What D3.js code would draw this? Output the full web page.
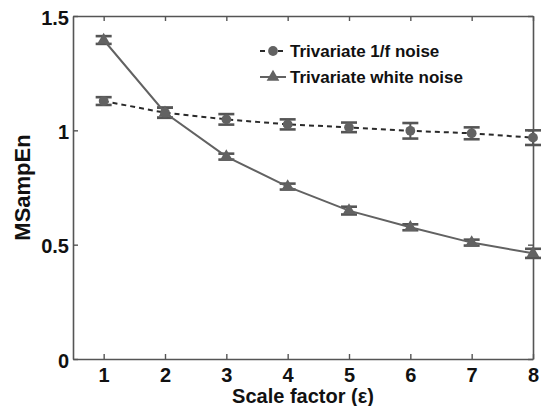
<!DOCTYPE html>
<html>
<head>
<meta charset="utf-8">
<script src="https://cdn.jsdelivr.net/npm/d3@7"></script>
<style>
  body { margin: 0; background: #fff; }
  text { font-family: "Liberation Sans", Arial, sans-serif; font-weight: bold; }
</style>
</head>
<body>
<div id="chart"></div>
<script>
//--------------------------------------------------------------
// DATA
//--------------------------------------------------------------
var scales = [1, 2, 3, 4, 5, 6, 7, 8];
var pinkMean = [1.128, 1.077, 1.048, 1.026, 1.013, 0.998, 0.987, 0.968];
var pinkErr = [0.017, 0.022, 0.023, 0.022, 0.021, 0.034, 0.026, 0.032];
var whiteMean = [1.395, 1.077, 0.885, 0.754, 0.649, 0.576, 0.509, 0.462];
var whiteErr = [0.017, 0.022, 0.013, 0.013, 0.017, 0.013, 0.013, 0.02];
var xTicks = [1, 2, 3, 4, 5, 6, 7, 8];
var yTicks = [0, 0.5, 1, 1.5];
var seriesNames = ["Trivariate 1/f noise", "Trivariate white noise"];

//--------------------------------------------------------------
// SIZE
//--------------------------------------------------------------
var width = 559, height = 406;
var margin = {top: 16, right: 26, bottom: 47, left: 73};
var chartWidth = width - margin.left - margin.right;
var chartHeight = height - margin.top - margin.bottom;

var svg = d3.select("#chart").append("svg")
  .attr("width", width)
  .attr("height", height);

var g = svg.append("g")
  .attr("transform", `translate(${margin.left},${margin.top})`);

var x = d3.scaleLinear().domain([0.5, 8]).range([0, chartWidth]);
var y = d3.scaleLinear().domain([0, 1.5]).range([chartHeight, 0]);

var axisColor = "#555";
var markColor = "#626262";

// axes with inward ticks
var bottomAxis = g.append("g")
  .attr("transform", `translate(0,${chartHeight})`)
  .call(d3.axisBottom(x).tickValues(xTicks).tickSizeInner(-5).tickSizeOuter(0).tickPadding(9));
var topAxis = g.append("g")
  .call(d3.axisTop(x).tickValues(xTicks).tickSizeInner(-5).tickSizeOuter(0).tickFormat(""));
var leftAxis = g.append("g")
  .call(d3.axisLeft(y).tickValues(yTicks).tickSizeInner(-5).tickSizeOuter(0).tickPadding(4).tickFormat(d3.format("")));
var rightAxis = g.append("g")
  .attr("transform", `translate(${chartWidth},0)`)
  .call(d3.axisRight(y).tickValues(yTicks).tickSizeInner(-5).tickSizeOuter(0).tickFormat(""));

[bottomAxis, topAxis, leftAxis, rightAxis].forEach(function(a) {
  a.select(".domain").attr("stroke", axisColor).attr("stroke-width", 1.6);
  a.selectAll(".tick line").attr("stroke", axisColor).attr("stroke-width", 1.4);
  a.selectAll("text").attr("fill", "#111").attr("font-size", 20)
    .attr("font-family", "Liberation Sans, Arial, sans-serif").attr("font-weight", "bold");
});
leftAxis.selectAll("text").attr("dy", "0.4em");
bottomAxis.selectAll("text").attr("dy", "0.7em");

// axis titles
g.append("text")
  .attr("x", chartWidth / 2)
  .attr("y", chartHeight + 44)
  .attr("text-anchor", "middle")
  .attr("font-size", 20)
  .attr("fill", "#111")
  .text("Scale factor (ε)");

g.append("text")
  .attr("transform", `translate(${-43},${chartHeight / 2}) rotate(-90)`)
  .attr("text-anchor", "middle")
  .attr("font-size", 22)
  .attr("fill", "#111")
  .text("MSampEn");

//--------------------------------------------------------------
// SERIES
//--------------------------------------------------------------
function rows(means, errs) {
  return scales.map(function(s, i) { return {s: s, m: means[i], e: errs[i]}; });
}
var pink = rows(pinkMean, pinkErr);
var white = rows(whiteMean, whiteErr);

var line = d3.line().x(d => x(d.s)).y(d => y(d.m));

function errorBars(data) {
  var eb = g.append("g").selectAll("g").data(data).enter().append("g")
    .attr("stroke", "#555").attr("fill", "none");
  eb.append("line")
    .attr("x1", d => x(d.s)).attr("x2", d => x(d.s))
    .attr("y1", d => y(d.m - d.e)).attr("y2", d => y(d.m + d.e))
    .attr("stroke-width", 2);
  [-1, 1].forEach(function(sign) {
    eb.append("line")
      .attr("x1", d => x(d.s) - 8).attr("x2", d => x(d.s) + 8)
      .attr("y1", d => y(d.m + sign * d.e)).attr("y2", d => y(d.m + sign * d.e))
      .attr("stroke-width", 2.6);
  });
}

errorBars(white);
errorBars(pink);

g.append("path").datum(white)
  .attr("d", line)
  .attr("fill", "none")
  .attr("stroke", markColor)
  .attr("stroke-width", 2);

g.append("path").datum(pink)
  .attr("d", line)
  .attr("fill", "none")
  .attr("stroke", "#2a2a2a")
  .attr("stroke-width", 2)
  .attr("stroke-dasharray", "5,4");

var tri = d3.symbol().type(d3.symbolTriangle).size(70);
var circ = d3.symbol().type(d3.symbolCircle).size(75);

g.append("g").selectAll("path").data(white).enter().append("path")
  .attr("d", tri)
  .attr("transform", d => `translate(${x(d.s)},${y(d.m)})`)
  .attr("fill", markColor);

g.append("g").selectAll("path").data(pink).enter().append("path")
  .attr("d", circ)
  .attr("transform", d => `translate(${x(d.s)},${y(d.m)})`)
  .attr("fill", markColor);

//--------------------------------------------------------------
// LEGEND
//--------------------------------------------------------------
var legend = svg.append("g").attr("transform", "translate(260,51)");
var legendRow = [
  {dash: "5,4", color: "#2a2a2a", sym: circ},
  {dash: null, color: markColor, sym: tri}
];
legendRow.forEach(function(r, i) {
  var row = legend.append("g").attr("transform", `translate(0,${i * 26})`);
  row.append("line")
    .attr("x1", 0).attr("x2", 26).attr("y1", 0).attr("y2", 0)
    .attr("stroke", r.color).attr("stroke-width", 2)
    .attr("stroke-dasharray", r.dash);
  row.append("path").attr("d", r.sym).attr("transform", "translate(13,0)").attr("fill", markColor);
  row.append("text")
    .attr("x", 30).attr("y", 0).attr("dy", "0.36em")
    .attr("font-size", 17).attr("fill", "#111")
    .text(seriesNames[i]);
});
</script>
</body>
</html>
